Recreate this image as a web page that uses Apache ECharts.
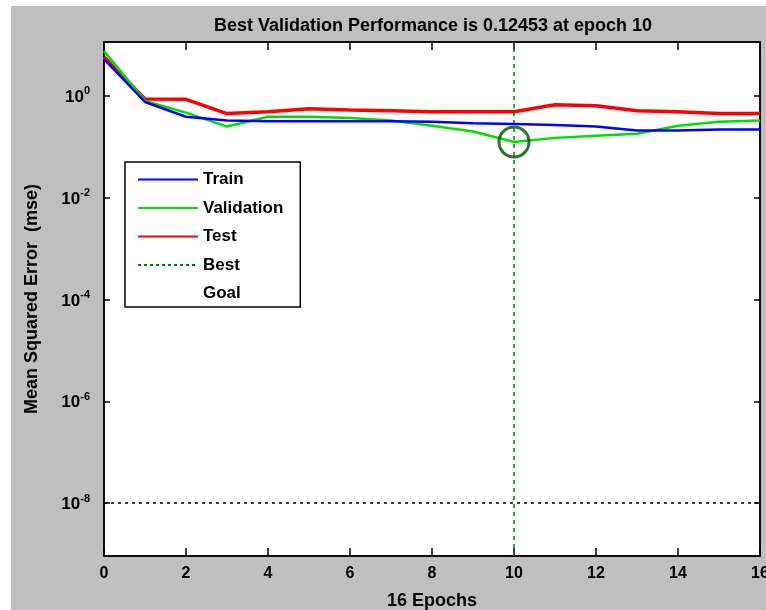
<!DOCTYPE html>
<html>
<head>
<meta charset="utf-8">
<script src="https://cdn.jsdelivr.net/npm/echarts@6/dist/echarts.min.js"></script>
<style>
html,body{margin:0;padding:0;background:#ffffff;}
#chart{width:766px;height:610px;}
</style>
</head>
<body>
<div id="chart"></div>
<script>
// ---- data ----
const epochs = [0,1,2,3,4,5,6,7,8,9,10,11,12,13,14,15,16];
const train = [5.3, 0.76, 0.39, 0.33, 0.32, 0.32, 0.32, 0.32, 0.31, 0.29, 0.28, 0.27, 0.25, 0.21, 0.21, 0.22, 0.22];
const validation = [7.6, 0.80, 0.47, 0.25, 0.39, 0.39, 0.37, 0.33, 0.26, 0.20, 0.12453, 0.15, 0.165, 0.18, 0.26, 0.31, 0.33];
const test = [5.8, 0.87, 0.86, 0.45, 0.49, 0.56, 0.53, 0.51, 0.49, 0.49, 0.49, 0.67, 0.64, 0.51, 0.49, 0.45, 0.45];
const bestEpoch = 10;
const bestValue = 0.12453;
const goal = 1e-8;
const yTickExponents = [-8, -6, -4, -2, 0];
const titleText = 'Best Validation Performance is 0.12453 at epoch 10';

const L = Math.log10;
const toPts = arr => arr.map((v, i) => [epochs[i], L(v)]);
const yMin = -9.04, yMax = 1.06;

const chart = echarts.init(document.getElementById('chart'), null, {renderer: 'canvas'});
const FONT = '"Liberation Sans", Arial, sans-serif';

const option = {
  animation: false,
  backgroundColor: '#ffffff',
  graphic: [{
    type: 'rect', z: -10, silent: true,
    shape: {x: 11, y: 6, width: 755, height: 604},
    style: {fill: '#bfbfbf'}
  }],
  title: {
    text: titleText,
    left: 428, top: 12, textAlign: 'center',
    textStyle: {fontFamily: FONT, fontSize: 18, fontWeight: 'bold', color: '#000'}
  },
  grid: {
    left: 104, right: 6, top: 42, bottom: 54,
    outerBoundsMode: 'none', containLabel: false,
    show: true, backgroundColor: '#ffffff', borderColor: '#000', borderWidth: 1.5, z: 0
  },
  legend: {
    orient: 'vertical', left: 125, top: 162,
    backgroundColor: '#ffffff', borderColor: '#000', borderWidth: 1.5, borderRadius: 0,
    padding: [9, 17, 5, 12],
    itemWidth: 60, itemHeight: 14, itemGap: 11.5,
    itemStyle: {opacity: 0},
    textStyle: {fontFamily: FONT, fontSize: 17, fontWeight: 'bold', color: '#000'},
    data: [
      {name: 'Train'}, {name: 'Validation'}, {name: 'Test'}, {name: 'Best'},
      {name: 'Goal', itemStyle: {opacity: 0}, lineStyle: {opacity: 0}}
    ]
  },
  xAxis: [{
    type: 'value', min: 0, max: 16, interval: 2, position: 'bottom',
    name: '16 Epochs', nameLocation: 'middle', nameGap: 36,
    nameTextStyle: {fontFamily: FONT, fontSize: 18, fontWeight: 'bold', color: '#000'},
    axisLine: {show: true, onZero: false, lineStyle: {color: '#000', width: 1.5}},
    axisTick: {show: true, inside: true, length: 8, lineStyle: {color: '#000', width: 1.5}},
    axisLabel: {fontFamily: FONT, fontSize: 16, fontWeight: 'bold', color: '#000', margin: 10},
    splitLine: {show: false}
  }, {
    type: 'value', min: 0, max: 16, interval: 2, position: 'top',
    axisLine: {show: true, onZero: false, lineStyle: {color: '#000', width: 1.5}},
    axisTick: {show: true, inside: true, length: 8, lineStyle: {color: '#000', width: 1.5}},
    axisLabel: {show: false}, splitLine: {show: false}
  }],
  yAxis: [{
    type: 'value', min: yMin, max: yMax, position: 'left',
    name: 'Mean Squared Error  (mse)', nameLocation: 'middle', nameGap: 63, nameRotate: 90,
    nameTextStyle: {fontFamily: FONT, fontSize: 18, fontWeight: 'bold', color: '#000'},
    axisLine: {show: true, onZero: false, lineStyle: {color: '#000', width: 1.5}},
    axisTick: {show: true, inside: true, length: 6, customValues: yTickExponents, lineStyle: {color: '#000', width: 1.5}},
    axisLabel: {
      customValues: yTickExponents, margin: 14,
      formatter: v => '{b|10}{s|' + v + '}',
      rich: {
        b: {fontFamily: FONT, fontSize: 17, fontWeight: 'bold', color: '#000', lineHeight: 20, verticalAlign: 'bottom'},
        s: {fontFamily: FONT, fontSize: 11, fontWeight: 'bold', color: '#000', lineHeight: 20, verticalAlign: 'top'}
      }
    },
    splitLine: {show: false}
  }, {
    type: 'value', min: yMin, max: yMax, position: 'right',
    axisLine: {show: true, onZero: false, lineStyle: {color: '#000', width: 1.5}},
    axisTick: {show: true, inside: true, length: 6, customValues: yTickExponents, lineStyle: {color: '#000', width: 1.5}},
    axisLabel: {show: false}, splitLine: {show: false}
  }],
  series: [
    {name: 'Train', type: 'line', data: toPts(train), symbol: 'none', z: 5,
     lineStyle: {color: '#0000ff', width: 2.5}, itemStyle: {color: '#0000ff'}},
    {name: 'Validation', type: 'line', data: toPts(validation), symbol: 'none', z: 4,
     lineStyle: {color: '#00dd00', width: 2.5}, itemStyle: {color: '#00dd00'}},
    {name: 'Test', type: 'line', data: toPts(test), symbol: 'none', z: 3,
     lineStyle: {color: '#ff0000', width: 3.5}, itemStyle: {color: '#ff0000'}},
    {name: 'Best', type: 'line', data: [], symbol: 'none',
     lineStyle: {color: '#007700', width: 1.5, type: [3, 3]}, itemStyle: {color: '#007700'},
     markLine: {silent: true, symbol: 'none', label: {show: false},
       lineStyle: {color: '#007700', width: 1.5, type: [4, 4]},
       data: [{xAxis: bestEpoch}]}},
    {name: 'Goal', type: 'line', data: [[epochs[0], L(goal)], [epochs[epochs.length-1], L(goal)]], symbol: 'none',
     lineStyle: {color: '#000', width: 1.5, type: [3, 4]}, itemStyle: {color: '#000'}},
    {name: 'BestPoint', type: 'scatter', data: [[bestEpoch, L(bestValue)]], symbol: 'circle', symbolSize: 30, z: 6,
     itemStyle: {color: 'rgba(0,0,0,0)', borderColor: '#004d00', borderWidth: 3}}
  ]
};
chart.setOption(option);
</script>
</body>
</html>
